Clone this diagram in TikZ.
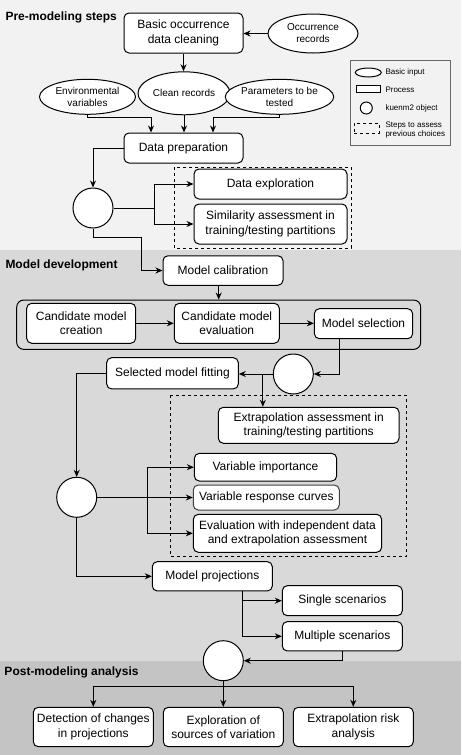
\documentclass[tikz,border=0pt]{standalone}
\usepackage{fontspec}
\setmainfont{Liberation Sans}
\usepackage{tikz}
\usetikzlibrary{positioning, arrows.meta, shapes.geometric}
\definecolor{bandA}{HTML}{F2F2F2}
\definecolor{bandB}{HTML}{D9D9D9}
\definecolor{bandC}{HTML}{C4C4C4}
\tikzset{sz/.style 2 args={minimum width=#1pt,minimum height=#2pt}}

\begin{document}
\begin{tikzpicture}[x=1pt,y=-1pt,line width=1pt,
	>={Stealth[length=7pt,width=6pt]},
	proc/.style={draw,rounded corners=5pt,fill=white,align=center,inner sep=0pt,font=\fontsize{12}{14.4}\selectfont},
	inp/.style={draw,ellipse,fill=white,align=center,inner sep=0pt,font=\fontsize{10}{12}\selectfont},
	obj/.style={draw,circle,fill=white,minimum size=40pt,inner sep=0pt},
	ttl/.style={anchor=west,inner sep=0pt,font=\bfseries\fontsize{12}{14.4}\selectfont},
	leg/.style={anchor=west,inner sep=0pt,align=left,font=\fontsize{8}{9.6}\selectfont},
	dashbox/.style={draw,dash pattern=on 3pt off 3pt}]
	\useasboundingbox (0,0) rectangle (461,755);
	\fill[bandA] (0,0) rectangle (461,250);
	\fill[bandB] (0,250) rectangle (461,660.7);
	\fill[bandC] (0,660.7) rectangle (461,755);
	\node[ttl] (pretitle) at (5,17) {Pre-modeling steps};
	\node[ttl] (devtitle) at (5,265) {Model development};
	\node[ttl] (posttitle) at (4,672.7) {Post-modeling analysis};
	\draw[dashbox] (174,167) rectangle (351,248);
	\draw[dashbox] (170,395) rectangle (406.7,556);

	\draw[draw=black!60] (350,60) rectangle (450.7,145);
	\node[draw,ellipse,fill=white,sz={26}{9},inner sep=0pt] (kinp) at (368.3,72.5) {};
	\node[draw,fill=white,sz={24.5}{7},inner sep=0pt] (kproc) at (368.3,89) {};
	\node[draw,circle,fill=white,minimum size=12pt,inner sep=0pt] (kobj) at (366.3,108) {};
	\node[dashbox,sz={25}{10},inner sep=0pt] (kdash) at (366.7,128.3) {};
	\node[leg] (tinp) at (385,72) {Basic input};
	\node[leg] (tproc) at (385,89.3) {Process};
	\node[leg] (tobj) at (385,108.3) {kuenm2 object};
	\node[leg] (tdash) at (385,130) {Steps to assess\\previous choices};

	\node[proc,sz={119}{40}] (cleaning) at (183.5,33) {Basic occurrence\\data cleaning};
	\node[inp,sz={90}{39}] (occ) at (313,33.5) {Occurrence\\records};
	\node[inp,sz={96}{35}] (env) at (87.5,96.8) {Environmental\\variables};
	\node[inp,sz={92}{43}] (cleanrec) at (184,93.3) {Clean records};
	\node[inp,sz={91}{35}] (params) at (279.5,96.8) {Parameters to be\\tested};
	\node[proc,sz={119}{30}] (prep) at (183.5,148) {Data preparation};
	\node[obj] (o1) at (93,208) {};
	\node[proc,sz={153}{30}] (explo) at (270.5,184) {Data exploration};
	\node[proc,sz={153}{40}] (simil) at (270.5,224) {Similarity assessment in\\training/testing partitions};

	\node[proc,sz={120}{29.5}] (calib) at (223,270.5) {Model calibration};
	\node[draw,rounded corners=7pt,sz={404}{49.3}] (calgroup) at (218.7,324.7) {};
	\node[proc,sz={109}{40}] (create) at (81.2,323.3) {Candidate model\\creation};
	\node[proc,sz={105}{40}] (evalc) at (226.8,323.3) {Candidate model\\evaluation};
	\node[proc,sz={98.3}{30}] (select) at (363.5,323.7) {Model selection};
	\node[obj] (o2) at (293.3,374) {};
	\node[proc,sz={131.6}{31.3}] (fit) at (172.5,373.3) {Selected model fitting};
	\node[proc,sz={180.7}{36}] (extrap) at (308.7,425.3) {Extrapolation assessment in\\training/testing partitions};
	\node[obj] (o3) at (76.7,497.3) {};
	\node[proc,sz={142.3}{27.7}] (varimp) at (265.5,467.2) {Variable importance};
	\node[proc,draw=black!75,sz={146}{25}] (varresp) at (266.3,497.5) {Variable response curves};
	\node[proc,sz={188.3}{38}] (evalind) at (287.5,533.3) {Evaluation with independent data\\and extrapolation assessment};
	\node[proc,sz={120}{29.3}] (proj) at (212.3,576.3) {Model projections};
	\node[proc,sz={120}{30}] (single) at (342.3,600.7) {Single scenarios};
	\node[proc,sz={120}{29.3}] (multi) at (342.3,636.3) {Multiple scenarios};

	\node[obj] (o4) at (223.3,660.7) {};
	\node[proc,sz={120}{39.4}] (detect) at (93.3,727) {Detection of changes\\in projections};
	\node[proc,sz={120}{39.4}] (sources) at (223.3,727) {Exploration of\\sources of variation};
	\node[proc,sz={120}{39.4}] (risk) at (353.3,727) {Extrapolation risk\\analysis};

	\draw[->] (occ.west) -- (occ.west -| cleaning.east);
	\draw[->] (cleaning.south) -- (cleaning.south |- cleanrec.north);
	\draw[->] (env.south) -- ++(0,3) -| ([xshift=-32.5pt]prep.north);
	\draw[->] (cleanrec.south) -- (cleanrec.south |- prep.north);
	\draw[->] (params.south) -- ++(0,3) -| ([xshift=29.5pt]prep.north);
	\draw[->] (prep.west) -| (o1.north);
	\draw[->] (o1.east) -- ++(41,0) |- (explo.west);
	\draw[->] (o1.east) -- ++(41,0) |- (simil.west);
	\draw[->] (o1.south) -- ++(0,9) -- ++(48.7,0) |- (calib.west);
	\draw[->] (calgroup.north |- calib.south) -- (calgroup.north);
	\draw[->] (create.east) -- (create.east -| evalc.west);
	\draw[->] (evalc.east) -- (evalc.east -| select.west);
	\draw[->] ([xshift=-24.2pt]select.south) |- (o2.east);
	\draw[->] (o2.west) -- (o2.west -| fit.east);
	\draw[->] ([xshift=-10pt]o2.west) -- ([xshift=-10pt]o2.west |- extrap.north);
	\draw[->] (fit.west) -| (o3.north);
	\draw[->] (o3.east) -- ++(50,0) |- (varimp.west);
	\draw[->] (o3.east) -- ++(50,0) |- (varresp.west);
	\draw[->] (o3.east) -- ++(50,0) |- (evalind.west);
	\draw[->] (o3.south) |- (proj.west);
	\draw[->] ([xshift=30pt]proj.south) |- (single.west);
	\draw[->] ([xshift=30pt]proj.south) |- (multi.west);
	\draw[->] (multi.south) |- (o4.east);
	\draw[->] (o4.south) -- ++(0,5) -| (detect.north);
	\draw[->] (o4.south) -- ++(0,5) -| (sources.north);
	\draw[->] (o4.south) -- ++(0,5) -| (risk.north);
\end{tikzpicture}
\end{document}
